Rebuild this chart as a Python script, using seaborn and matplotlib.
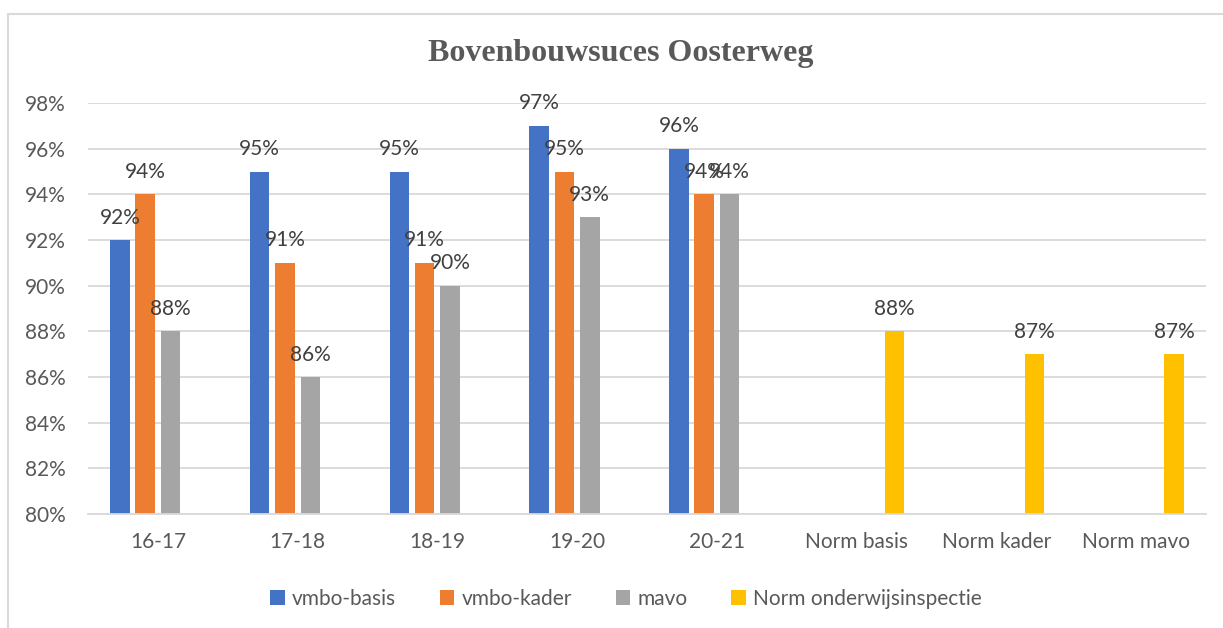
import matplotlib.pyplot as plt
import numpy as np
import pandas as pd
import seaborn as sns

# %% data

categories = ["16-17", "17-18", "18-19", "19-20", "20-21", "Norm basis", "Norm kader", "Norm mavo"]
series = ["vmbo-basis", "vmbo-kader", "mavo", "Norm onderwijsinspectie"]
colors = ["#4472C4", "#ED7D31", "#A5A5A5", "#FFC000"]

vmbo_basis = [92, 95, 95, 97, 96, np.nan, np.nan, np.nan]
vmbo_kader = [94, 91, 91, 95, 94, np.nan, np.nan, np.nan]
mavo = [88, 86, 90, 93, 94, np.nan, np.nan, np.nan]
norm = [np.nan, np.nan, np.nan, np.nan, np.nan, 88, 87, 87]

yticks = [80, 82, 84, 86, 88, 90, 92, 94, 96, 98]

# %% long table

df = pd.DataFrame({
    "jaar": categories * 4,
    "reeks": np.repeat(series, len(categories)),
    "pct": vmbo_basis + vmbo_kader + mavo + norm,
}).dropna()

# %% plot

sns.set_style("white")
plt.rcParams["font.family"] = ["Lato", "DejaVu Sans"]
grey = "#595959"
grid = "#D9D9D9"

fig = plt.figure(figsize=(12.23, 6.28), dpi=100)
ax = fig.add_axes([88 / 1223, 114 / 628, 1118 / 1223, 411 / 628])

sns.barplot(data=df, x="jaar", y="pct", hue="reeks", order=categories, hue_order=series,
            palette=colors, saturation=1, width=0.724, gap=0.23, errorbar=None,
            linewidth=0, ax=ax)

for c in ax.containers:
    ax.bar_label(c, labels=[f"{v:.0f}%" for v in c.datavalues], padding=9,
                 fontsize=15, color="#404040")

ax.set_ylim(80, 98)
ax.set_yticks(yticks)
ax.set_yticklabels([f"{t}%" for t in yticks])
ax.set_xlabel("")
ax.set_ylabel("")
ax.grid(axis="y", color=grid, lw=1.3)
ax.set_axisbelow(True)
for s in ["top", "right", "left"]:
    ax.spines[s].set_visible(False)
ax.spines["bottom"].set_color(grid)
ax.spines["bottom"].set_linewidth(1.3)
ax.tick_params(axis="y", length=0, pad=16, labelsize=15, labelcolor=grey)
ax.tick_params(axis="x", length=0, pad=13, labelsize=15, labelcolor=grey)

sns.move_legend(ax, "center", bbox_to_anchor=(626 / 1223, 29 / 628),
                bbox_transform=fig.transFigure, ncol=4, frameon=False, title=None,
                fontsize=15, handlelength=0.7, handleheight=0.7, handletextpad=0.35,
                columnspacing=2.1)
for t in ax.get_legend().get_texts():
    t.set_color(grey)

fig.text(621 / 1223, 1 - 53 / 628, "Bovenbouwsuces Oosterweg", ha="center", va="center",
         fontsize=23, fontweight="bold", family="Liberation Serif", color=grey)

# chart border
fig.add_artist(plt.Line2D([7.5 / 1223, 7.5 / 1223], [0, 1 - 13.5 / 628], color=grid, lw=1.5,
                          transform=fig.transFigure))
fig.add_artist(plt.Line2D([7.5 / 1223, 1], [1 - 13.5 / 628, 1 - 13.5 / 628], color=grid, lw=1.5,
                          transform=fig.transFigure))

fig.savefig("out.png", facecolor="w", dpi=100)
